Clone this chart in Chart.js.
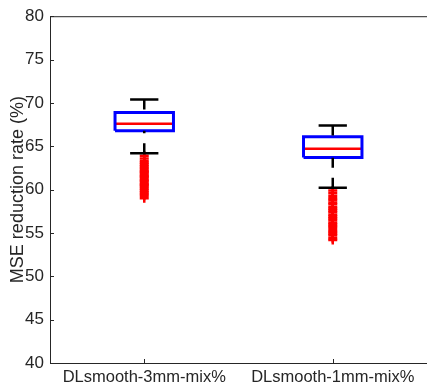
<!DOCTYPE html>
<html>
<head>
<meta charset="utf-8">
<script src="https://cdn.jsdelivr.net/npm/chart.js@4/dist/chart.umd.min.js"></script>
<style>
  html, body { margin: 0; padding: 0; background: #fff; overflow: hidden; }
  #wrap { width: 434px; height: 388px; }
</style>
</head>
<body>
<div id="wrap"><canvas id="boxChart"></canvas></div>
<script>
// Box plot summary values
const categories = ['DLsmooth-3mm-mix%', 'DLsmooth-1mm-mix%'];
const upperWhisker = [70.4, 67.4];
const q3 = [68.9, 66.1];
const median = [67.6, 64.7];
const q1 = [66.8, 63.7];
const lowerWhisker = [64.2, 60.2];
const outliers3mm = [63.9, 63.6, 63.3, 63.1, 62.9, 62.7, 62.5, 62.3, 62.1, 62.0, 61.8, 61.6, 61.5,
  61.3, 61.1, 61.0, 60.8, 60.6, 60.5, 60.3, 60.1, 59.9, 59.7, 59.5, 59.3, 59.0];
const outliers1mm = [59.9, 59.6, 59.3, 59.0, 58.8, 58.5, 58.3, 58.0, 57.8, 57.6, 57.4, 57.1, 56.9,
  56.7, 56.5, 56.2, 56.0, 55.8, 55.6, 55.3, 55.1, 54.9, 54.7, 54.4, 54.2];
const yTicks = [40, 45, 50, 55, 60, 65, 70, 75, 80];

const boxHalf = 0.155;   // half box width in category units
const capHalf = 0.075;   // half whisker cap width
const axisColor = '#262626';
const fontFamily = 'Liberation Sans, Arial, sans-serif';

// Build line segments for each box from the arrays above
const datasets = [];
function seg(points, color, width, dash) {
  datasets.push({
    type: 'line', data: points, borderColor: color, borderWidth: width,
    borderDash: dash || [], pointRadius: 0, fill: false, tension: 0
  });
}
categories.forEach((c, i) => {
  const x = i + 1;
  // whiskers drawn from the cap towards the box (dashed like MATLAB)
  seg([{x: x, y: upperWhisker[i]}, {x: x, y: q3[i]}], '#000', 2.5, [10, 10]);
  seg([{x: x, y: lowerWhisker[i]}, {x: x, y: q1[i]}], '#000', 2.5, [10, 10]);
  seg([{x: x - capHalf, y: upperWhisker[i]}, {x: x + capHalf, y: upperWhisker[i]}], '#000', 2.5);
  seg([{x: x - capHalf, y: lowerWhisker[i]}, {x: x + capHalf, y: lowerWhisker[i]}], '#000', 2.5);
  // box
  seg([{x: x - boxHalf, y: q1[i]}, {x: x + boxHalf, y: q1[i]}, {x: x + boxHalf, y: q3[i]},
       {x: x - boxHalf, y: q3[i]}, {x: x - boxHalf, y: q1[i]}], '#0000ff', 3);
  // median
  seg([{x: x - boxHalf, y: median[i]}, {x: x + boxHalf, y: median[i]}], '#ff0000', 2.5);
});

// outliers as red plus markers
[outliers3mm, outliers1mm].forEach((vals, i) => {
  datasets.push({
    type: 'scatter',
    data: vals.map(v => ({x: i + 1, y: v})),
    pointStyle: 'cross', pointRadius: 4.5, borderColor: '#ff0000', borderWidth: 2.5,
    backgroundColor: '#ff0000'
  });
});

// frame + inward tick marks like MATLAB axes
const framePlugin = {
  id: 'frame',
  afterDraw(chart) {
    const {ctx, chartArea: a, scales} = chart;
    ctx.save();
    ctx.strokeStyle = axisColor;
    ctx.lineWidth = 1;
    ctx.strokeRect(a.left + 0.5, a.top + 0.5, a.right - a.left, a.bottom - a.top);
    ctx.beginPath();
    yTicks.forEach(v => {
      const y = Math.round(scales.y.getPixelForValue(v)) + 0.5;
      ctx.moveTo(a.left, y); ctx.lineTo(a.left + 4, y);
    });
    categories.forEach((c, i) => {
      const x = Math.round(scales.x.getPixelForValue(i + 1)) + 0.5;
      ctx.moveTo(x, a.bottom); ctx.lineTo(x, a.bottom - 4);
    });
    ctx.stroke();
    ctx.restore();
  }
};

new Chart(document.getElementById('boxChart'), {
  type: 'line',
  data: { datasets: datasets },
  options: {
    responsive: true,
    maintainAspectRatio: false,
    animation: false,
    layout: { padding: { top: 15, right: 0, left: 0, bottom: 0 } },
    plugins: { legend: { display: false }, tooltip: { enabled: false } },
    scales: {
      x: {
        type: 'linear', min: 0.5, max: 2.5,
        afterFit: s => { s.height = 25; },
        afterBuildTicks: s => { s.ticks = categories.map((c, i) => ({value: i + 1})); },
        ticks: {
          callback: v => categories[v - 1] || '',
          color: axisColor, font: { family: fontFamily, size: 16.5 },
          padding: 5, maxRotation: 0, autoSkip: false
        },
        grid: { display: false, drawTicks: false },
        border: { display: false }
      },
      y: {
        min: 40, max: 80,
        afterFit: s => { s.width = 50; },
        afterBuildTicks: s => { s.ticks = yTicks.map(v => ({value: v})); },
        ticks: {
          color: axisColor, font: { family: fontFamily, size: 17 }, padding: 6
        },
        title: {
          display: true, text: 'MSE reduction rate (%)', color: axisColor,
          font: { family: fontFamily, size: 18 }, padding: { top: 7, bottom: 0 }
        },
        grid: { display: false, drawTicks: false },
        border: { display: false }
      }
    }
  },
  plugins: [framePlugin]
});
</script>
</body>
</html>
